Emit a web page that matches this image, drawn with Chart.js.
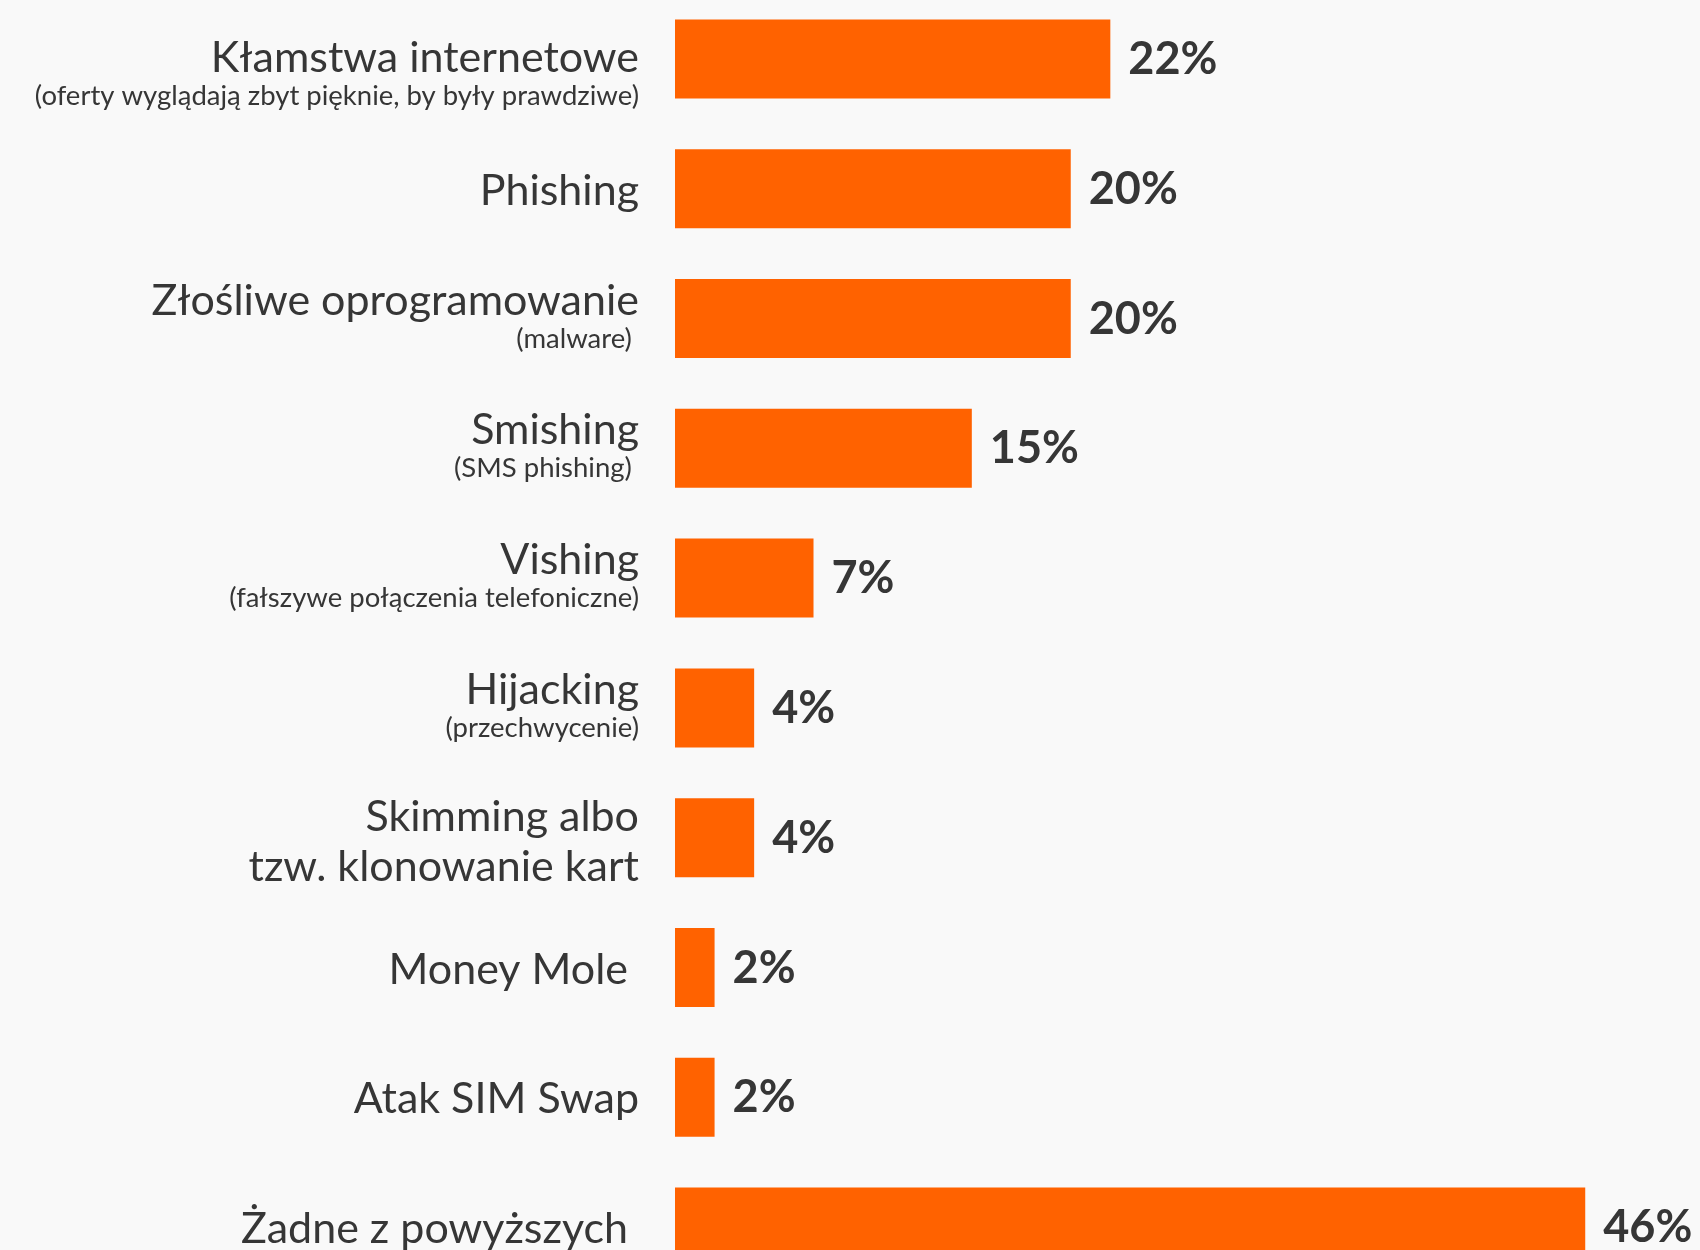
<!DOCTYPE html>
<html lang="pl">
<head>
<meta charset="utf-8">
<title>Oszustwa internetowe</title>
<script src="https://cdn.jsdelivr.net/npm/chart.js@4/dist/chart.umd.min.js"></script>
<style>
    html, body {
        margin: 0;
        padding: 0;
        background: #f9f9f9;
        overflow: hidden;
        width: 1700px;
        height: 1250px;
    }
    #wrap {
        position: absolute;
        left: 0;
        top: -6px;
        width: 1700px;
        height: 1298px;
    }
</style>
</head>
<body>
<div id="wrap"><canvas id="fraudChart" width="1700" height="1298"></canvas></div>
<script>
// ===== DANE =====
const mainLabels = [
    ["Kłamstwa internetowe"],
    ["Phishing"],
    ["Złośliwe oprogramowanie"],
    ["Smishing"],
    ["Vishing"],
    ["Hijacking"],
    ["Skimming albo", "tzw. klonowanie kart"],
    ["Money Mole "],
    ["Atak SIM Swap"],
    ["Żadne z powyższych "]
];
const subLabels = [
    "(oferty wyglądają zbyt pięknie, by były prawdziwe)",
    "",
    "(malware) ",
    "(SMS phishing) ",
    "(fałszywe połączenia telefoniczne)",
    "(przechwycenie)",
    "",
    "",
    "",
    ""
];
const values = [22, 20, 20, 15, 7, 4, 4, 2, 2, 46];

document.addEventListener("DOMContentLoaded", function () {

    const canvas = document.getElementById("fraudChart");
    if (!canvas) return;

    const TEXT = "#363636";
    const ORANGE = "#ff6200";
    const FONT = "Lato, 'Open Sans', sans-serif";

    // etykiety po lewej i wartości po prawej
    const labelPlugin = {
        id: "sideLabels",
        afterDatasetsDraw(chart) {
            const ctx = chart.ctx;
            const y = chart.scales.y;
            const meta = chart.getDatasetMeta(0);
            const rightEdge = chart.chartArea.left - 36;

            ctx.save();
            ctx.fillStyle = TEXT;
            ctx.textBaseline = "alphabetic";

            mainLabels.forEach((lines, i) => {
                const c = y.getPixelForValue(i);
                ctx.textAlign = "right";
                ctx.font = "43px " + FONT;

                if (subLabels[i]) {
                    // pierwszy wiersz w oryginale jest trochę niżej
                    const shift = i === 0 ? 17 : 0;
                    ctx.fillText(lines[0], rightEdge, c - 4 + shift);
                    ctx.font = "27.5px " + FONT;
                    ctx.fillText(subLabels[i], rightEdge, c + 29 + shift);
                } else if (lines.length > 1) {
                    ctx.fillText(lines[0], rightEdge, c - 7);
                    ctx.fillText(lines[1], rightEdge, c + 43);
                } else {
                    ctx.fillText(lines[0], rightEdge, c + 16);
                }

                // wartość
                const bar = meta.data[i];
                ctx.textAlign = "left";
                ctx.font = "bold 45px " + FONT;
                ctx.fillText(values[i] + "%", bar.x + 18, c + 15);
            });

            ctx.restore();
        }
    };

    new Chart(canvas, {
        type: "bar",
        data: {
            labels: mainLabels.map(l => l.join(" ")),
            datasets: [
                {
                    data: values,
                    backgroundColor: ORANGE,
                    borderWidth: 0,
                    barPercentage: 1,
                    categoryPercentage: 0.609
                }
            ]
        },
        options: {
            indexAxis: "y",
            responsive: false,
            animation: false,
            layout: {
                padding: { left: 675, right: 0, top: 0, bottom: 0 }
            },
            plugins: {
                legend: { display: false },
                tooltip: { enabled: false }
            },
            scales: {
                x: {
                    display: false,
                    min: 0,
                    max: 51.8
                },
                y: {
                    display: false
                }
            }
        },
        plugins: [labelPlugin]
    });
});
</script>
</body>
</html>
